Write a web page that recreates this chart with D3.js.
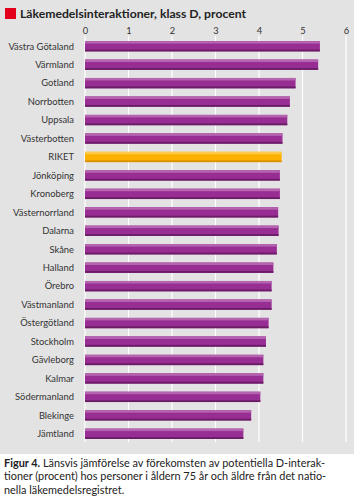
<!DOCTYPE html>
<html>
<head>
<meta charset="utf-8">
<script src="https://cdn.jsdelivr.net/npm/d3@7"></script>
<style>
  html, body { margin: 0; padding: 0; background: #fff; }
  svg { display: block; font-family: Lato, "Open Sans", sans-serif; }
</style>
</head>
<body>
<div id="chart"></div>
<script>
const regions = [
  'Västra Götaland', 'Värmland', 'Gotland', 'Norrbotten', 'Uppsala', 'Västerbotten',
  'RIKET', 'Jönköping', 'Kronoberg', 'Västernorrland', 'Dalarna', 'Skåne', 'Halland',
  'Örebro', 'Västmanland', 'Östergötland', 'Stockholm', 'Gävleborg', 'Kalmar',
  'Södermanland', 'Blekinge', 'Jämtland'
];
const values = [
  5.40, 5.36, 4.84, 4.71, 4.65, 4.54,
  4.52, 4.48, 4.48, 4.44, 4.45, 4.41, 4.33,
  4.29, 4.29, 4.22, 4.16, 4.10, 4.10,
  4.03, 3.82, 3.64
];
const ticks = [0, 1, 2, 3, 4, 5, 6];
const highlight = 'RIKET';
const title = 'Läkemedelsinteraktioner, klass D, procent';
const captionBold = 'Figur 4.';
const captionLines = [
  ' Länsvis jämförelse av förekomsten av potentiella D-interak-',
  'tioner (procent) hos personer i åldern 75 år och äldre från det natio-',
  'nella läkemedelsregistret.'
];

const W = 354, H = 500;
const data = regions.map((r, i) => ({ region: r, value: values[i] }));

const svg = d3.select('#chart').append('svg')
  .attr('width', W).attr('height', H);

// grey panel
svg.append('rect')
  .attr('x', 0).attr('y', 0)
  .attr('width', W).attr('height', 454)
  .attr('fill', '#e3e3e3');

// title
svg.append('rect')
  .attr('x', 5).attr('y', 8)
  .attr('width', 11).attr('height', 11)
  .attr('fill', '#e2001a');
svg.append('text')
  .attr('x', 20).attr('y', 18)
  .attr('font-size', 12.2)
  .attr('font-weight', 'bold')
  .attr('fill', '#222')
  .text(title);

const x = d3.scaleLinear().domain([0, 6]).range([85, 346]);
const y = d3.scaleBand().domain(regions).range([37, 443]).paddingInner(0.44).paddingOuter(0.22);

// grid
svg.append('g').selectAll('line')
  .data(ticks)
  .join('line')
  .attr('x1', d => x(d)).attr('x2', d => x(d))
  .attr('y1', 36).attr('y2', 442)
  .attr('stroke', '#fff')
  .attr('stroke-width', 1.2);

// top axis labels
const axis = svg.append('g')
  .attr('transform', 'translate(0,36)')
  .call(d3.axisTop(x).tickValues(ticks).tickSize(0).tickPadding(2).tickFormat(d3.format('d')));
axis.select('.domain').remove();
axis.selectAll('text')
  .attr('font-family', 'Lato, sans-serif')
  .attr('font-size', 9.3)
  .attr('fill', '#333');

// region labels
svg.append('g').selectAll('text')
  .data(data)
  .join('text')
  .attr('x', 74)
  .attr('y', d => y(d.region) + y.bandwidth() / 2)
  .attr('dy', '0.35em')
  .attr('text-anchor', 'end')
  .attr('font-size', 9.4)
  .attr('fill', '#333')
  .text(d => d.region);

// bars
const colors = {
  normal: { main: '#982d93', top: '#b565b0', bottom: '#6a1d66' },
  hi: { main: '#fcb100', top: '#fdc94a', bottom: '#d99100' }
};
const bars = svg.append('g').selectAll('g')
  .data(data)
  .join('g');

bars.append('rect')
  .attr('x', x(0))
  .attr('y', d => y(d.region))
  .attr('width', d => x(d.value) - x(0))
  .attr('height', y.bandwidth())
  .attr('fill', d => d.region === highlight ? colors.hi.main : colors.normal.main);
bars.append('rect')
  .attr('x', x(0))
  .attr('y', d => y(d.region))
  .attr('width', d => x(d.value) - x(0))
  .attr('height', 2.5)
  .attr('fill', d => d.region === highlight ? colors.hi.top : colors.normal.top);
bars.append('rect')
  .attr('x', x(0))
  .attr('y', d => y(d.region) + y.bandwidth() - 1.8)
  .attr('width', d => x(d.value) - x(0))
  .attr('height', 1.8)
  .attr('fill', d => d.region === highlight ? colors.hi.bottom : colors.normal.bottom);

// caption
const cap = svg.append('g').attr('font-size', 10.9).attr('fill', '#222');
const first = cap.append('text').attr('x', 4).attr('y', 466.5);
first.append('tspan').attr('font-weight', 'bold').text(captionBold);
first.append('tspan').text(captionLines[0]);
captionLines.slice(1).forEach((line, i) => {
  cap.append('text').attr('x', 4).attr('y', 480 + i * 13.5).text(line);
});
</script>
</body>
</html>
